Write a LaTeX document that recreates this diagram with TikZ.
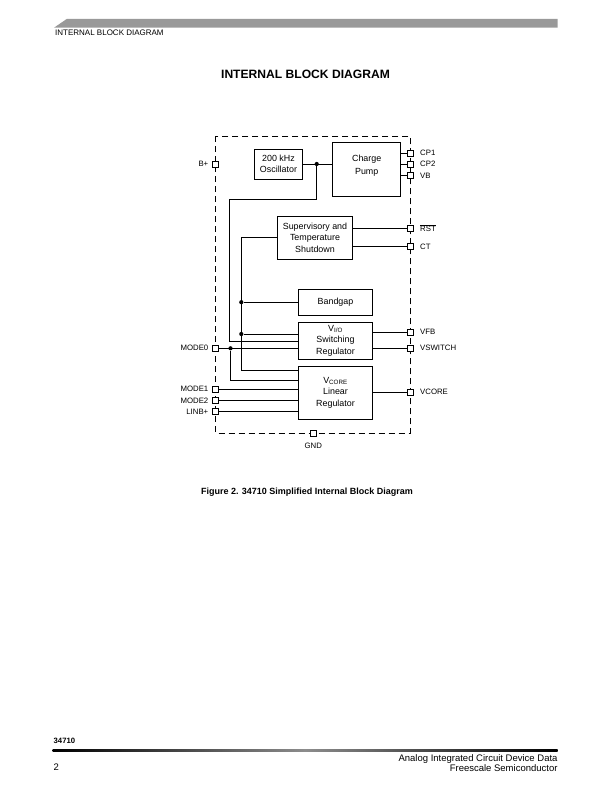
\documentclass[tikz,border=0pt]{standalone}
\usepackage{fontspec}
\setmainfont{Liberation Sans}
\usetikzlibrary{positioning,calc}
\tikzset{
  blk/.style  ={draw,line width=0.9pt,align=center,font=\fontsize{8.9}{11.6}\selectfont,inner sep=1pt},
  pin/.style  ={draw,fill=white,line width=0.7pt,minimum size=5.8pt,inner sep=0pt},
  plab/.style ={font=\fontsize{7.8}{9}\selectfont,inner sep=0pt},
  wire/.style ={line width=0.8pt},
  dot/.style  ={circle,fill=black,minimum size=4.2pt,inner sep=0pt},
  frame/.style={dashed,dash pattern=on 6pt off 4pt,line width=0.8pt},
}
\begin{document}
\begin{tikzpicture}[x=1pt,y=-1pt]
  \useasboundingbox (0,0) rectangle (612,792);
  % page header and footer
  \fill[black!40] (54,27.7) -- (66.7,19) -- (557.7,19) -- (557.7,27.7) -- cycle;
  \node[anchor=west,font=\fontsize{8}{9}\selectfont,inner sep=0pt] (hdr) at (55,33) {INTERNAL BLOCK DIAGRAM};
  \node[font=\bfseries\fontsize{12.1}{14}\selectfont] (title) at (305.5,74.5) {INTERNAL BLOCK DIAGRAM};
  \node[font=\bfseries\fontsize{9}{10.8}\selectfont] (cap) at (307,492) {Figure 2. 34710 Simplified Internal Block Diagram};
  \node[anchor=west,font=\bfseries\fontsize{7.7}{9}\selectfont,inner sep=0pt] (pn) at (53.5,740.7) {34710};
  \shade[left color=black,right color=black,middle color=black!45] (52.7,749.9) rectangle (557.7,751.5);
  \node[anchor=west,font=\fontsize{9.5}{11}\selectfont,inner sep=0pt] (pg) at (53.5,767) {2};
  \node[anchor=east,font=\fontsize{9.5}{11}\selectfont,inner sep=0pt] (ft1) at (557.7,759.5) {Analog Integrated Circuit Device Data};
  \node[anchor=east,font=\fontsize{9.5}{11}\selectfont,inner sep=0pt] (ft2) at (557.7,768.5) {Freescale Semiconductor};

  % package outline
  \draw[frame] (215.7,136) rectangle (410,433);

  % blocks
  \node[blk,minimum width=48.4pt,minimum height=30pt]   (osc)   at (278.5,164)   {200 kHz\\Oscillator};
  \node[blk,minimum width=68pt,minimum height=54.4pt]   (pump)  at (366.7,169.5) {};
  \node[align=center,font=\fontsize{8.9}{13}\selectfont,inner sep=0pt] (pumptxt) at (366.7,165.8) {Charge\\Pump};
  \node[blk,minimum width=74.6pt,minimum height=43.3pt] (sup)   at (315,237.7)   {Supervisory and\\Temperature\\Shutdown};
  \node[blk,minimum width=74.4pt,minimum height=25.7pt] (bgap)  at (335.5,302.2) {Bandgap};
  \node[blk,minimum width=74.4pt,minimum height=37pt]   (vio)   at (335.5,340.8) {V\textsubscript{I/O}\\Switching\\Regulator};
  \node[blk,minimum width=74.4pt,minimum height=53pt]   (vcore) at (335.5,392.5) {V\textsubscript{CORE}\\Linear\\Regulator};

  % pins, right side
  \foreach \n/\y/\t in {cpa/153/CP1,cpb/164/CP2,vb/175.7/VB,rst/228.3/$\overline{\mbox{RST}}$,ct/246.7/CT,vfb/332/VFB,vsw/348.3/VSWITCH,vco/392.3/VCORE}{
    \node[pin] (p\n) at (410,\y) {};
    \node[plab,anchor=west] (l\n) at (420,\y) {\t};
  }
  % pins, left side
  \foreach \n/\y/\t in {bp/164/B+,mz/348.3/MODE0,ma/389.3/MODE1,mb/400.7/MODE2,lb/411.7/LINB+}{
    \node[pin] (p\n) at (215.7,\y) {};
    \node[plab,anchor=east] (l\n) at (208.5,\y) {\t};
  }
  \node[pin] (pgnd) at (313.3,433) {};
  \node[plab] (lgnd) at (313.3,445.5) {GND};

  % outputs
  \foreach \n in {cpa,cpb,vb}{\draw[wire] (pump.east |- p\n) -- (p\n.west);}
  \foreach \n in {rst,ct}{\draw[wire] (sup.east |- p\n) -- (p\n.west);}
  \foreach \n in {vfb,vsw}{\draw[wire] (vio.east |- p\n) -- (p\n.west);}
  \draw[wire] (vcore.east |- pvco) -- (pvco.west);

  % oscillator to charge pump and switcher
  \node[dot] (d1) at (316.7,164) {};
  \draw[wire] (osc.east) -- (pump.west |- osc.east);
  \coordinate (o1) at (316.7,199.3);
  \coordinate (o2) at (229.3,341);
  \draw[wire] (d1) -- (o1) -| (o2) -- (vio.west |- o2);

  % supervisory to bandgap and regulators
  \coordinate (s1) at (241.3,370.7);
  \node[dot] (d2) at (241.3,302.2) {};
  \node[dot] (d3) at (241.3,334) {};
  \draw[wire] (sup.west) -| (s1) -- (vcore.west |- s1);
  \draw[wire] (d2) -- (bgap.west);
  \draw[wire] (d3) -- (vio.west |- d3);

  % mode inputs
  \node[dot] (d4) at (230.5,348.3) {};
  \coordinate (m1) at (230.5,380);
  \draw[wire] (pmz.east) -- (vio.west |- pmz);
  \draw[wire] (d4) -- (m1) -- (vcore.west |- m1);
  \foreach \n in {ma,mb,lb}{\draw[wire] (p\n.east) -- (vcore.west |- p\n);}
\end{tikzpicture}
\end{document}
